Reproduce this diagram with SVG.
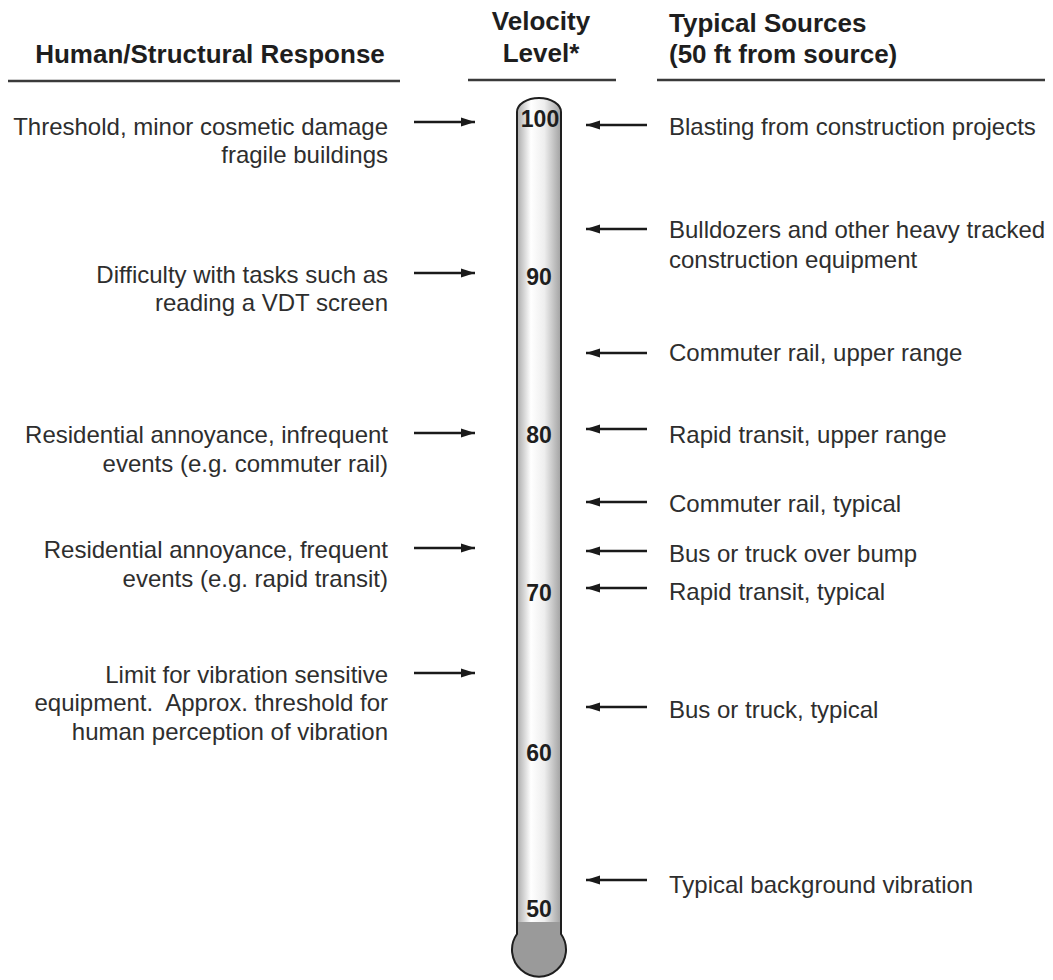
<svg xmlns="http://www.w3.org/2000/svg" width="1053" height="980" viewBox="0 0 1053 980">
<style>
.hd{font-family:"Liberation Sans",Arial,sans-serif;font-weight:bold;font-size:26px;fill:#1e1e1e}
.tx{font-family:"Liberation Sans",Arial,sans-serif;font-size:24px;fill:#2e2e2e}
.lt{text-anchor:end}
.num{font-family:"Liberation Sans",Arial,sans-serif;font-weight:bold;font-size:23px;fill:#1e1e1e;text-anchor:middle}
.rule{stroke:#3a3a3a;stroke-width:2.5}
.arr{stroke:#1a1a1a;stroke-width:2.4;fill:none;marker-end:url(#ah)}
</style>
<defs>
<marker id="ah" markerUnits="userSpaceOnUse" markerWidth="16" markerHeight="12" refX="14" refY="5" orient="auto">
<path d="M0,0.5 L14,5 L0,9.5 Z" fill="#1a1a1a"/>
</marker>
<linearGradient id="tube" x1="0" y1="0" x2="1" y2="0">
<stop offset="0" stop-color="#8c8c8c"/>
<stop offset="0.35" stop-color="#ffffff"/>
<stop offset="0.6" stop-color="#eeeeee"/>
<stop offset="1" stop-color="#8a8a8a"/>
</linearGradient>
<clipPath id="tclip">
<path d="M517,112 A22,14 0 0 1 561,112 L561,934 A27,27 0 1 1 517,934 Z"/>
</clipPath>
</defs>
<rect width="1053" height="980" fill="#ffffff"/>

<g id="headers">
<text class="hd" x="210" y="63" text-anchor="middle">Human/Structural Response</text>
<line class="rule" x1="8" y1="81" x2="400" y2="81"/>
<text class="hd" x="541" y="30" text-anchor="middle">Velocity</text>
<text class="hd" x="541" y="62" text-anchor="middle">Level*</text>
<line class="rule" x1="468" y1="80" x2="616" y2="80"/>
<text class="hd" x="669" y="32">Typical Sources</text>
<text class="hd" x="669" y="63">(50 ft from source)</text>
<line class="rule" x1="657" y1="80" x2="1045" y2="80"/>
</g>

<g id="thermometer">
<path d="M517,112 A22,14 0 0 1 561,112 L561,934 A27,27 0 1 1 517,934 Z" fill="url(#tube)"/>
<rect x="500" y="922" width="80" height="60" fill="#9a9a9a" clip-path="url(#tclip)"/>
<path d="M517,112 A22,14 0 0 1 561,112 L561,934 A27,27 0 1 1 517,934 Z" fill="none" stroke="#1e1e1e" stroke-width="2"/>
<text class="num" x="540" y="127">100</text>
<text class="num" x="539" y="285">90</text>
<text class="num" x="539" y="443">80</text>
<text class="num" x="539" y="601">70</text>
<text class="num" x="539" y="761">60</text>
<text class="num" x="539" y="917">50</text>
</g>

<g id="connectors">
<line class="arr" x1="414" y1="122" x2="475" y2="122"/>
<line class="arr" x1="414" y1="273" x2="475" y2="273"/>
<line class="arr" x1="414" y1="433" x2="475" y2="433"/>
<line class="arr" x1="414" y1="548" x2="475" y2="548"/>
<line class="arr" x1="414" y1="673" x2="475" y2="673"/>
<line class="arr" x1="647" y1="125" x2="586" y2="125"/>
<line class="arr" x1="647" y1="229" x2="586" y2="229"/>
<line class="arr" x1="647" y1="353" x2="586" y2="353"/>
<line class="arr" x1="647" y1="429" x2="586" y2="429"/>
<line class="arr" x1="647" y1="502" x2="586" y2="502"/>
<line class="arr" x1="647" y1="551" x2="586" y2="551"/>
<line class="arr" x1="647" y1="588" x2="586" y2="588"/>
<line class="arr" x1="647" y1="707" x2="586" y2="707"/>
<line class="arr" x1="647" y1="880" x2="586" y2="880"/>
</g>

<g id="resp-threshold"><text class="tx lt" x="388" y="135">Threshold, minor cosmetic damage</text><text class="tx lt" x="388" y="163">fragile buildings</text></g>
<g id="resp-difficulty"><text class="tx lt" x="388" y="283">Difficulty with tasks such as</text><text class="tx lt" x="388" y="311">reading a VDT screen</text></g>
<g id="resp-infrequent"><text class="tx lt" x="388" y="443">Residential annoyance, infrequent</text><text class="tx lt" x="388" y="472">events (e.g. commuter rail)</text></g>
<g id="resp-frequent"><text class="tx lt" x="388" y="558">Residential annoyance, frequent</text><text class="tx lt" x="388" y="587">events (e.g. rapid transit)</text></g>
<g id="resp-limit"><text class="tx lt" x="388" y="683">Limit for vibration sensitive</text><text class="tx lt" x="388" y="711" xml:space="preserve">equipment.  Approx. threshold for</text><text class="tx lt" x="388" y="740">human perception of vibration</text></g>

<g id="src-blasting"><text class="tx" x="669" y="135">Blasting from construction projects</text></g>
<g id="src-bulldozers"><text class="tx" x="669" y="238">Bulldozers and other heavy tracked</text><text class="tx" x="669" y="268">construction equipment</text></g>
<g id="src-commuter-upper"><text class="tx" x="669" y="361">Commuter rail, upper range</text></g>
<g id="src-rapid-upper"><text class="tx" x="669" y="443">Rapid transit, upper range</text></g>
<g id="src-commuter-typ"><text class="tx" x="669" y="512">Commuter rail, typical</text></g>
<g id="src-bus-bump"><text class="tx" x="669" y="562">Bus or truck over bump</text></g>
<g id="src-rapid-typ"><text class="tx" x="669" y="600">Rapid transit, typical</text></g>
<g id="src-bus-typ"><text class="tx" x="669" y="718">Bus or truck, typical</text></g>
<g id="src-background"><text class="tx" x="669" y="893">Typical background vibration</text></g>
</svg>
